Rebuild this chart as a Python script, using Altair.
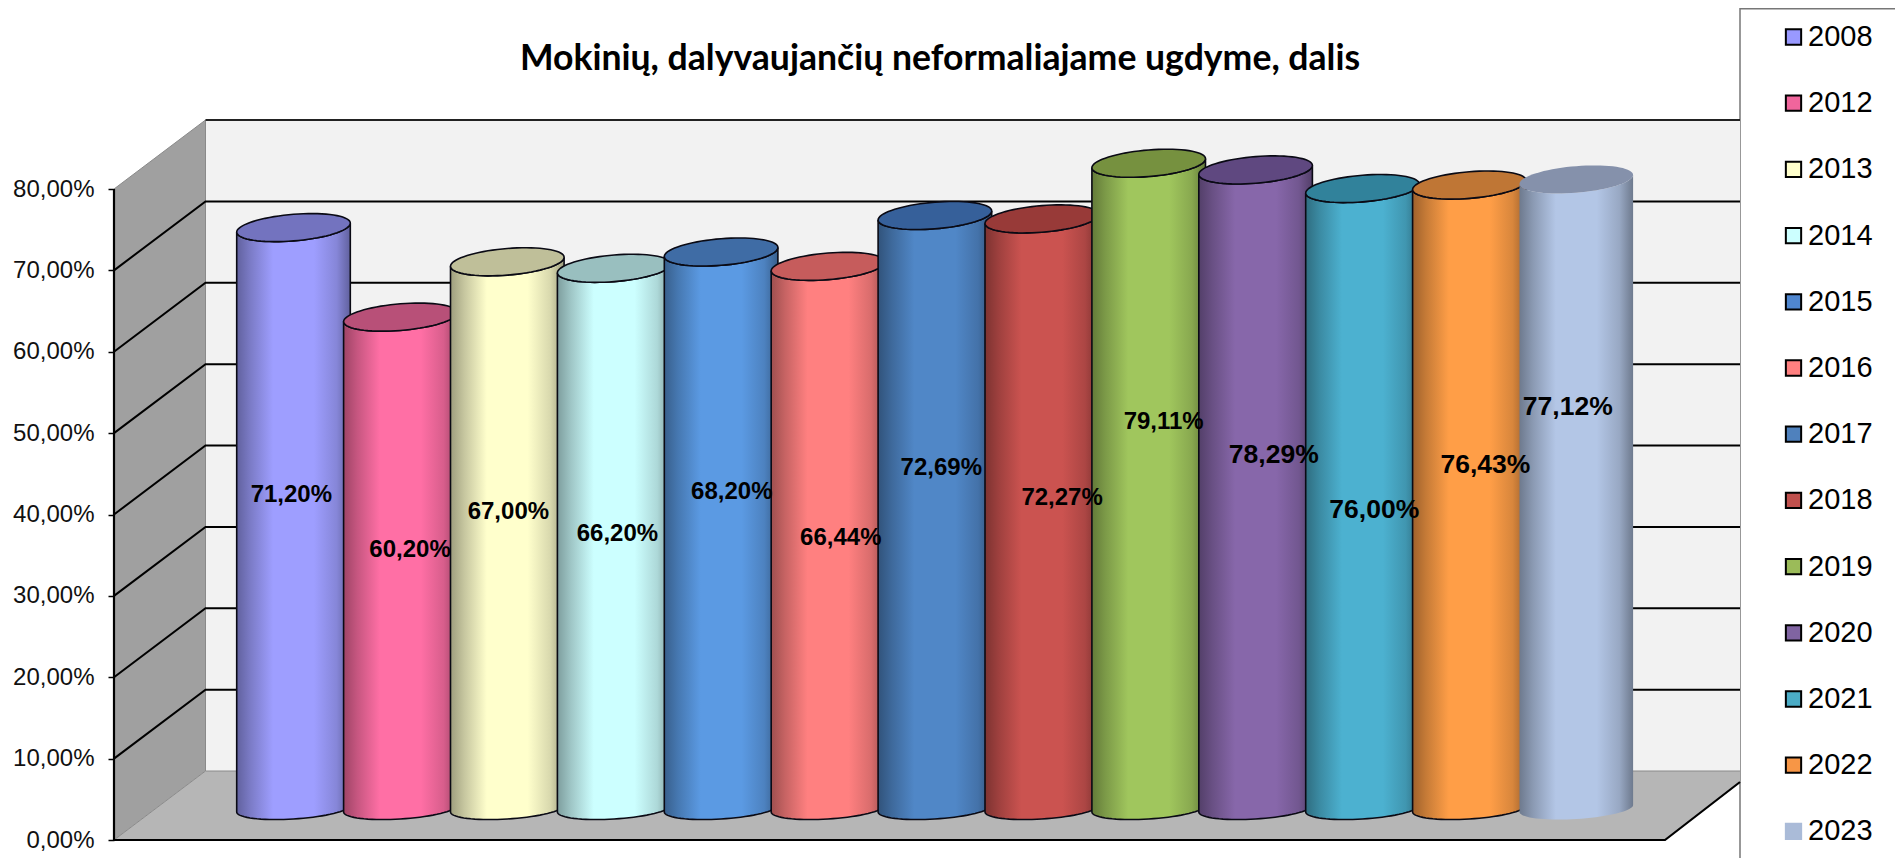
import math
import altair as alt
import pandas as pd

# ---- chart values ----
years = ["2008","2012","2013","2014","2015","2016","2017","2018","2019","2020","2021","2022","2023"]
values = [71.20,60.20,67.00,66.20,68.20,66.44,72.69,72.27,79.11,78.29,76.00,76.43,77.12]
labels = ["71,20%","60,20%","67,00%","66,20%","68,20%","66,44%","72,69%","72,27%","79,11%","78,29%","76,00%","76,43%","77,12%"]
label_height = [42.38,35.67,40.29,37.6,42.82,37.16,45.66,42.08,51.33,47.3,40.59,46.11,53.26]
label_shift = [-0.02,0.09,0.01,0.03,0.10,0.12,0.06,0.19,0.14,0.17,0.11,0.15,-0.08]
label_size = [24,24,24,24,24,24,24,24,24,26.5,26.5,26.5,26.5]
body_colors = ["#9E9EFF","#FF6FA5","#FFFFCC","#CCFFFF","#5B9AE3","#FF8080","#5087C7","#CB5350","#A0C65D","#8767AA","#4CB1D0","#FF9E47","#B3C6E6"]
cap_colors = ["#7373BF","#B85078","#BFBF99","#99BFBF","#3F6CA5","#C65C5C","#36609A","#983A38","#76913F","#5F4880","#31829B","#BF7635","#8591AB"]
swatch_colors = ["#9999FF","#F0659C","#FFFFCC","#CCFFFF","#4F86CF","#FF8080","#4F81BD","#C0504D","#9BBB59","#8064A2","#4BACC6","#F79646","#AABBD8"]
ticks = [0,10,20,30,40,50,60,70,80]

TITLE = "Mokinių, dalyvaujančių neformaliajame ugdyme, dalis"

# ---- scale geometry ----
PX_X = 106.9      # px per category
PX_Y = 8.1375     # px per percentage point
W, H = 1781, 832
X_MIN = -179.5 / PX_X
X_MAX = X_MIN + W / PX_X
Y_MAX = H / PX_Y
DEPTH_X = 91.5 / PX_X
DEPTH_Y = 69 / PX_Y
BASE = 33 / PX_Y
BASE_ARC = 31.5 / PX_Y
RADIUS = 56.8 / PX_X
MINOR = 13.3 / PX_Y
MINOR_BASE = 10.5 / PX_Y
TILT = 4.5 / PX_Y
TILT_BASE = 3.5 / PX_Y
X_FRONT_END = 1551 / PX_X + X_MIN
X_BOX = 1626 / PX_X + X_MIN
Y_FLOOR_R = 58 / PX_Y

xs = alt.Scale(domain=[X_MIN, X_MAX], nice=False, zero=False)
ys = alt.Scale(domain=[0, Y_MAX], nice=False, zero=False)
X = alt.X("x:Q", scale=xs, axis=None)
y_axis = alt.Axis(
    values=ticks, title=None, domain=False, grid=False,
    tickColor="black", tickWidth=1.5, tickSize=6, labelPadding=14,
    labelFont="Liberation Sans", labelFontSize=24, labelColor="#111111",
    labelExpr="replace(format(datum.value,'.2f'),'.',',')+'%'")
Y = alt.Y("y:Q", scale=ys, axis=y_axis)
Y2 = alt.Y2("y2:Q")


def area(points, **mark):
    df = pd.DataFrame(points, columns=["x", "y", "y2"])
    return alt.Chart(df).mark_area(interpolate="linear", opacity=1, **mark).encode(x=X, y=Y, y2=Y2)


def line(points, color, width):
    df = pd.DataFrame(points, columns=["x", "y"])
    df["o"] = range(len(df))
    return alt.Chart(df).mark_line(color=color, strokeWidth=width, interpolate="linear").encode(
        x=X, y=Y, order="o:Q")


def shade(c, f):
    r, g, b = [int(c[i:i + 2], 16) for i in (1, 3, 5)]
    return "#%02x%02x%02x" % (int(r * f), int(g * f), int(b * f))


def gradient(c):
    stops = [(0, .62), (.12, .78), (.32, 1), (.68, 1), (.88, .85), (1, .62)]
    return alt.LinearGradient(
        gradient="linear", x1=0, x2=1, y1=0, y2=0,
        stops=[alt.GradientStop(color=shade(c, f), offset=o) for o, f in stops])


layers = []

# legend box
box = pd.DataFrame({"x": [X_BOX], "x2": [X_MAX + 1], "y": [-5], "y2": [Y_MAX - 0.1]})
layers.append(alt.Chart(box).mark_rect(fill="white", stroke="#777777", strokeWidth=1.5).encode(
    x=X, x2="x2:Q", y=Y, y2=Y2))

# walls and floor
top = 80
layers.append(area([(DEPTH_X + X_MIN, top + DEPTH_Y, DEPTH_Y), (X_BOX, top + DEPTH_Y, DEPTH_Y)], fill="#F2F2F2"))
layers.append(area([(X_MIN, top, 0), (X_MIN + DEPTH_X, top + DEPTH_Y, DEPTH_Y)], fill="#A0A0A0"))
layers.append(area([(X_MIN, 0, 0), (X_MIN + DEPTH_X, DEPTH_Y, 0), (X_FRONT_END, DEPTH_Y, 0),
                    (X_BOX, DEPTH_Y, Y_FLOOR_R)], fill="#B6B6B6"))

# thin edges
layers.append(line([(X_MIN, 0), (X_MIN + DEPTH_X, DEPTH_Y), (X_BOX, DEPTH_Y)], "#8A8A8A", 1))
layers.append(line([(X_MIN + DEPTH_X, DEPTH_Y), (X_MIN + DEPTH_X, top + DEPTH_Y), (X_MIN, top)], "#8A8A8A", 1))

# grid lines
for t in ticks[1:]:
    if t < 80:
        layers.append(line([(X_MIN, t), (X_MIN + DEPTH_X, t + DEPTH_Y), (X_BOX, t + DEPTH_Y)], "#000000", 2))
    else:
        layers.append(line([(X_MIN + DEPTH_X, t + DEPTH_Y), (X_BOX, t + DEPTH_Y)], "#222222", 2))

# front axis and floor front edges
layers.append(line([(X_MIN, top), (X_MIN, 0), (X_FRONT_END, 0), (X_BOX, Y_FLOOR_R)], "#000000", 2.2))

# cylinders
N = 36
us = [-math.cos(math.pi * k / N) for k in range(N + 1)]


def arc(c, u, tilt, minor, sign):
    return c + tilt * u + sign * minor * math.sqrt(max(0, 1 - u * u))


for i, (v, body, cap) in enumerate(zip(values, body_colors, cap_colors)):
    stroke = {} if years[i] == "2023" else {"stroke": "#0A0A14", "strokeWidth": 1.6}
    top_c = BASE + v
    layers.append(area([(i + RADIUS * u, arc(top_c, u, TILT, MINOR, -1), arc(BASE_ARC, u, TILT_BASE, MINOR_BASE, -1))
                        for u in us], fill=gradient(body), **stroke))
    layers.append(area([(i + RADIUS * u, arc(top_c, u, TILT, MINOR, 1), arc(top_c, u, TILT, MINOR, -1))
                        for u in us], fill=cap, **stroke))

# data labels
lab = pd.DataFrame({"x": [i + s for i, s in enumerate(label_shift)], "y": label_height,
                    "t": labels, "s": label_size})
layers.append(alt.Chart(lab).mark_text(font="Liberation Sans", fontWeight="bold",
                                        color="#000000").encode(
    x=X, y=Y, text="t:N", size=alt.Size("s:Q", scale=None, legend=None)))

# legend carrier
leg = pd.DataFrame({"x": [0.0] * 13, "y": [10.0] * 13, "year": years})
stroke_colors = ["#000000"] * 12 + ["#AABBD8"]
legend = alt.Legend(
    title=None, orient="none", legendX=1665, legendY=14.5, padding=0,
    symbolType="square", symbolSize=234, symbolStrokeWidth=2, symbolOpacity=1,
    labelFont="Liberation Sans", labelFontSize=29, labelColor="#000000",
    labelOffset=0, rowPadding=36.2, values=years)
layers.append(alt.Chart(leg).mark_point(size=0, filled=True, opacity=0).encode(
    x=X, y=Y,
    fill=alt.Fill("year:N", sort=years, scale=alt.Scale(domain=years, range=swatch_colors), legend=legend),
    stroke=alt.Stroke("year:N", sort=years, scale=alt.Scale(domain=years, range=stroke_colors), legend=legend),
))

chart = alt.layer(*layers).properties(
    width=W, height=H,
    padding={"left": 106, "top": 0, "right": 0, "bottom": 18},
    autosize=alt.AutoSizeParams(type="none"),
    background="white",
    title=alt.TitleParams(text=TITLE, font="Lato", fontWeight="bold", fontSize=35.6, color="#000000",
                          anchor="middle", dx=-64.5, offset=-70),
).configure_view(stroke=None)

chart.save("out.html", embed_options={"renderer": "svg", "actions": False})
